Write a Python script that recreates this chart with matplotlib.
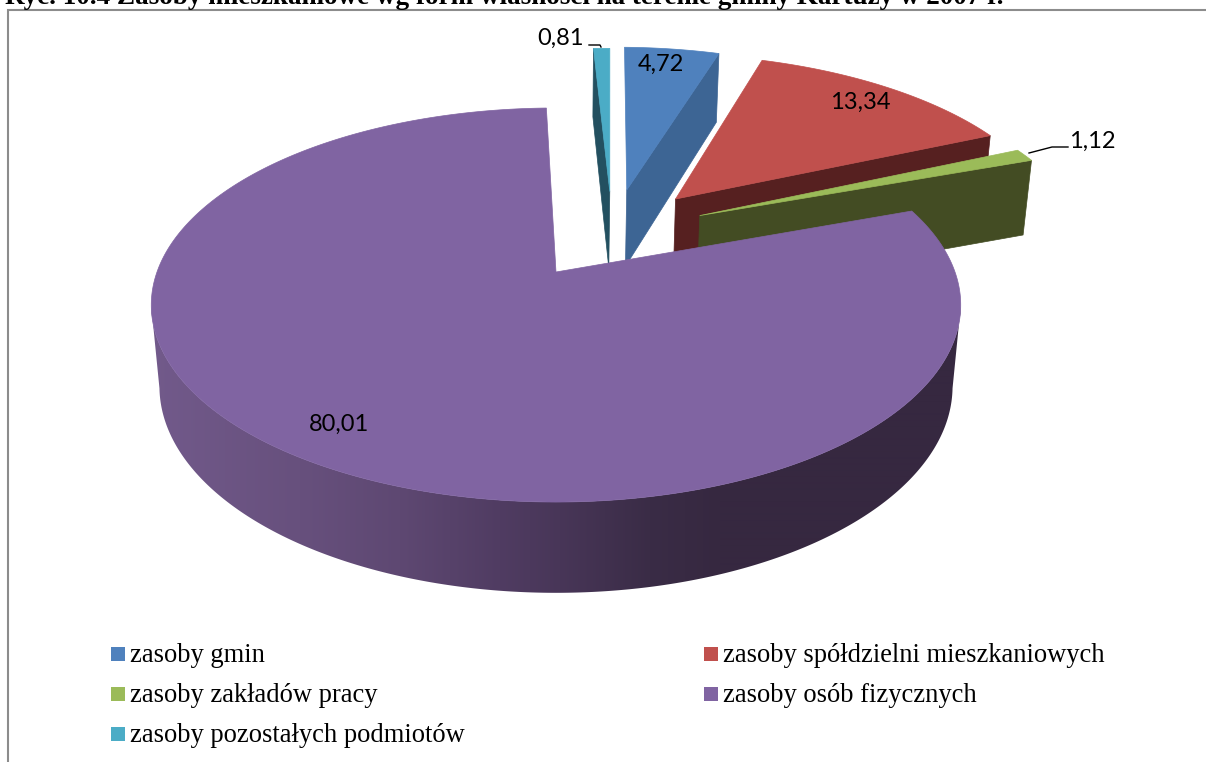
import numpy as np
import matplotlib
matplotlib.use("Agg")
import matplotlib.pyplot as plt
from matplotlib.patches import Polygon, Rectangle

# values in percent, clockwise from the first slice
labels = ["zasoby gmin", "zasoby spółdzielni mieszkaniowych", "zasoby zakładów pracy",
          "zasoby osób fizycznych", "zasoby pozostałych podmiotów"]
values = [4.72, 13.34, 1.12, 80.01, 0.81]
title = "Ryc. 10.4 Zasoby mieszkaniowe wg form własności na terenie gminy Kartuzy w 2007 r."

top_colors = ["#4f81bd", "#c0504d", "#9bbb59", "#8064a2", "#4bacc6"]
cut_colors = ["#3d6594", "#562020", "#434c23", "#3b2d4b", "#235060"]

# offset of every slice on the pie plane (the exploded look)
explode_u = [0.191, 0.320, 0.379, 0.0, 0.145]
explode_v = [0.461, 0.407, 0.310, 0.0, 0.452]

# perspective of the pie, in pixels of the output
CX, CY = 556, 272
A, B, C = 399.0, 191.5, 82.0
K, M = 0.1675, 0.02
START = 1.3

wall_x = [150, 300, 400, 500, 560, 650, 720, 961]
wall_rgb = [(114, 90, 139), (103, 80, 125), (94, 72, 114), (80, 60, 98),
            (72, 54, 88), (58, 44, 70), (54, 40, 64), (54, 40, 64)]


def project(u, v, z=0.0):
    # z=0 is the top face, z=1 the bottom one
    w = 1 + K * v + M * z
    return CX + A * u / w, CY - (B * v - C * z) / w


def rim(theta, du=0.0, dv=0.0, z=0.0):
    t = np.radians(theta)
    return project(np.sin(t) + du, np.cos(t) + dv, z)


def top_face(a0, a1, du, dv):
    th = np.linspace(a0, a1, max(int(abs(a1 - a0)) * 2, 2))
    x, y = rim(th, du, dv)
    ax0, ay0 = project(du, dv)
    return np.column_stack([np.r_[ax0, x], np.r_[ay0, y]])


def cut_face(theta, du, dv):
    return [project(du, dv), rim(theta, du, dv), rim(theta, du, dv, 1.0), project(du, dv, 1.0)]


fig = plt.figure(figsize=(12.06, 7.62), dpi=100)
ax = fig.add_axes([0, 0, 1, 1])

ax.plot([8, 8, 1206], [762, 10, 10], color="#8c8c8c", lw=1.5, solid_joinstyle="miter")
ax.text(5, 4, title, family="Liberation Serif", weight="bold", fontsize=19.5, color="black",
        ha="left", va="baseline")

angles = START + np.r_[0, np.cumsum(values)] * 3.6

# back slices first, the big one goes on top of them
for i in [4, 0, 1, 2]:
    a0, a1 = angles[i], angles[i + 1]
    du, dv = explode_u[i], explode_v[i]
    # only the cut face turned to the viewer can be seen
    theta = a0 if i == 4 else a1
    ax.add_patch(Polygon(cut_face(theta, du, dv), fc=cut_colors[i], ec=cut_colors[i], lw=0.5, zorder=1))
    ax.add_patch(Polygon(top_face(a0, a1, du, dv), fc=top_colors[i], ec=top_colors[i], lw=0.5, zorder=1))

# outer wall of the big slice, shaded along x through a clipped gradient
# 100..260 runs between the widest points of the ellipse, so the sides join straight
th = np.arange(100, 260.5, 0.5)
xt, yt = rim(th)
xb, yb = rim(th[::-1], z=1.0)
wall = Polygon(np.column_stack([np.r_[xt, xb], np.r_[yt, yb]]), fc="none", ec="none",
               transform=ax.transData)
ax.add_patch(wall)
grad_x = np.arange(140, 972)
grad = np.stack([np.interp(grad_x, wall_x, [c[j] for c in wall_rgb]) for j in range(3)], axis=-1) / 255
img = ax.imshow(grad[np.newaxis, :, :], extent=(140, 972, 600, 200), aspect="auto", zorder=2,
                interpolation="bilinear")
img.set_clip_path(wall)

ax.add_patch(Polygon(top_face(angles[3], angles[4], 0, 0), fc=top_colors[3], ec=top_colors[3],
                     lw=0.5, zorder=3))

# data labels, taken from the values
label_xy = [(661, 64), (860, 102), (1092, 141), (339, 424), (560, 38)]
for val, (lx, ly) in zip(values, label_xy):
    ax.text(lx, ly, f"{val:.2f}".replace(".", ","), family="Lato", fontsize=17, color="black",
            ha="center", va="center", zorder=4)

# leader lines
ax.plot([589, 600, 601], [45, 45, 47], color="black", lw=1, zorder=4)
ax.plot([1029, 1052, 1068], [153, 147, 147], color="black", lw=1, zorder=4)

# legend, two columns
legend_pos = [(111, 654), (704, 654), (111, 694), (704, 694), (111, 734)]
for name, col, (lx, ly) in zip(labels, top_colors, legend_pos):
    ax.add_patch(Rectangle((lx, ly - 7), 14, 14, fc=col, ec="none"))
    ax.text(lx + 19, ly + 8, name, family="Liberation Serif", fontsize=19.1, color="black",
            ha="left", va="baseline")

ax.set_xlim(0, 1206)
ax.set_ylim(762, 0)
ax.axis("off")

fig.savefig("out.png", dpi=100)
